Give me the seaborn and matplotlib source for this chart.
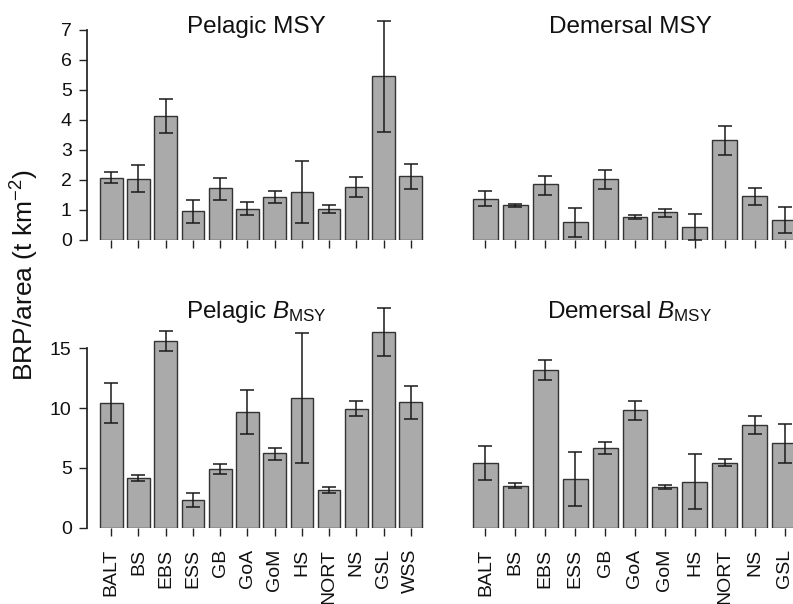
import numpy as np
import pandas as pd
import matplotlib
matplotlib.use("Agg")
import matplotlib.pyplot as plt
import seaborn as sns

# Regions (pelagic has WSS, demersal does not)
pel_regions = ['BALT', 'BS', 'EBS', 'ESS', 'GB', 'GoA', 'GoM', 'HS', 'NORT', 'NS', 'GSL', 'WSS']
dem_regions = ['BALT', 'BS', 'EBS', 'ESS', 'GB', 'GoA', 'GoM', 'HS', 'NORT', 'NS', 'GSL']

# Pelagic MSY (t km-2)
pel_msy = [2.08, 2.04, 4.13, 0.97, 1.72, 1.04, 1.44, 1.59, 1.04, 1.77, 5.47, 2.12]
pel_msy_lo = [1.89, 1.59, 3.56, 0.56, 1.34, 0.82, 1.22, 0.56, 0.89, 1.44, 3.59, 1.70]
pel_msy_hi = [2.28, 2.50, 4.71, 1.33, 2.08, 1.27, 1.64, 2.62, 1.17, 2.11, 7.31, 2.55]

# Demersal MSY
dem_msy = [1.38, 1.16, 1.86, 0.60, 2.03, 0.78, 0.93, 0.42, 3.32, 1.47, 0.67]
dem_msy_lo = [1.14, 1.09, 1.50, 0.09, 1.71, 0.71, 0.78, 0.00, 2.82, 1.17, 0.22]
dem_msy_hi = [1.63, 1.20, 2.14, 1.08, 2.34, 0.83, 1.04, 0.86, 3.81, 1.74, 1.09]

# Pelagic BMSY
pel_bmsy = [10.42, 4.14, 15.61, 2.36, 4.94, 9.64, 6.22, 10.86, 3.17, 9.94, 16.33, 10.47]
pel_bmsy_lo = [8.75, 3.89, 14.78, 1.75, 4.53, 7.80, 5.67, 5.42, 2.92, 9.31, 14.31, 9.08]
pel_bmsy_hi = [12.08, 4.39, 16.44, 2.89, 5.36, 11.47, 6.67, 16.28, 3.42, 10.58, 18.33, 11.83]

# Demersal BMSY
dem_bmsy = [5.44, 3.53, 13.17, 4.11, 6.69, 9.81, 3.42, 3.86, 5.44, 8.58, 7.06]
dem_bmsy_lo = [4.00, 3.31, 12.31, 1.81, 6.19, 9.00, 3.25, 1.58, 5.14, 7.83, 5.39]
dem_bmsy_hi = [6.86, 3.75, 14.03, 6.33, 7.17, 10.58, 3.58, 6.19, 5.72, 9.33, 8.67]

sns.set_theme(style="ticks")
plt.rcParams['font.family'] = ['Liberation Sans', 'DejaVu Sans']
plt.rcParams['mathtext.fontset'] = 'custom'
plt.rcParams['mathtext.rm'] = 'Liberation Sans'
plt.rcParams['mathtext.it'] = 'Liberation Sans:italic'
plt.rcParams['mathtext.default'] = 'rm'

fig = plt.figure(figsize=(7.93, 6.04), dpi=100)
W, H = 793, 604


def px_axes(left, right, top, bottom):
    return fig.add_axes([left / W, 1 - bottom / H, (right - left) / W, (bottom - top) / H])


panels = [
    # (regions, values, lo, hi, title, left, right, top, bottom, ymax, yticks, show_y, show_xlab)
    (pel_regions, pel_msy, pel_msy_lo, pel_msy_hi, 'Pelagic MSY', 87, 426, 15, 240, 7.5, range(0, 8), True, False),
    (dem_regions, dem_msy, dem_msy_lo, dem_msy_hi, 'Demersal MSY', 460, 800, 15, 240, 7.5, range(0, 8), False, False),
    (pel_regions, pel_bmsy, pel_bmsy_lo, pel_bmsy_hi, r'Pelagic $\mathit{B}_{\mathrm{MSY}}$', 87, 426, 300, 528, 19.0, [0, 5, 10, 15], True, True),
    (dem_regions, dem_bmsy, dem_bmsy_lo, dem_bmsy_hi, r'Demersal $\mathit{B}_{\mathrm{MSY}}$', 460, 800, 300, 528, 19.0, [0, 5, 10, 15], False, True),
]

for regions, vals, lo, hi, title, l, r, t, b, ymax, yt, show_y, show_xlab in panels:
    ax = px_axes(l, r, t, b)
    df = pd.DataFrame({'region': regions, 'value': vals})
    sns.barplot(data=df, x='region', y='value', color='#aaaaaa', saturation=1,
                width=1 / 1.2, edgecolor='#333333', linewidth=1.0, errorbar=None, ax=ax)
    vals_a = np.array(vals)
    yerr = np.vstack([vals_a - np.array(lo), np.array(hi) - vals_a])
    ax.errorbar(np.arange(len(regions)), vals_a, yerr=yerr, fmt='none',
                ecolor='#1a1a1a', elinewidth=1.1, capsize=5, capthick=1.1)
    n = len(regions)
    ext = 0.04 * (1.2 * n - 0.2)
    ax.set_xlim((-0.5 - ext) / 1.2, n - 0.5 - 0.5 / 1.2 + ext / 1.2)
    ax.set_ylim(0, ymax)
    ax.set_xlabel('')
    ax.set_ylabel('')
    for s in ['top', 'right', 'bottom']:
        ax.spines[s].set_visible(False)
    ax.tick_params(axis='x', length=6, width=1, color='#222222', pad=9,
                   labelsize=14, labelcolor='#111111')
    ax.set_xticks(range(n))
    if show_xlab:
        ax.set_xticklabels(regions, rotation=90)
    else:
        ax.set_xticklabels([])
    if show_y:
        ax.set_yticks(list(yt))
        ax.spines['left'].set_bounds(min(yt), max(yt))
        ax.spines['left'].set_color('#222222')
        ax.tick_params(axis='y', length=6, width=1, color='#222222', pad=5,
                       labelsize=14, labelcolor='#111111')
    else:
        ax.spines['left'].set_visible(False)
        ax.set_yticks([])
    ax.text(0.5, 0.92, title, transform=ax.transAxes, ha='center', va='baseline',
            fontsize=17.5, color='#111111')

fig.text(0.032, 0.545, r'BRP/area (t km$^{-2}$)', rotation=90, ha='center', va='center',
         fontsize=19, color='#111111')

fig.savefig('out.png', dpi=100)
